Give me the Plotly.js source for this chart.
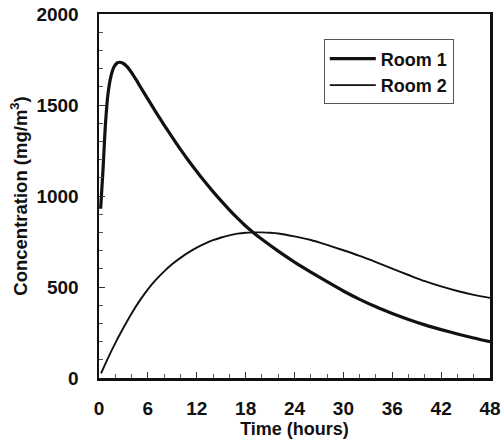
<!DOCTYPE html>
<html>
<head>
<meta charset="utf-8">
<script src="https://cdn.plot.ly/plotly-3.0.1.min.js"></script>
<style>
  html, body { margin: 0; padding: 0; background: #fff; }
  #chart { width: 501px; height: 444px; }
</style>
</head>
<body>
<div id="chart"></div>
<script>
// Concentration in each room over time (hours, mg/m^3)
const room1Hours = [0.2, 0.5, 0.8, 1.1, 1.45, 1.85, 2.2, 2.5, 3, 3.5, 4, 4.5, 5, 6, 7, 8, 9, 10, 11, 12, 13, 14, 15, 16, 17, 18, 19, 20, 22, 24, 26, 28, 30, 32, 34, 36, 38, 40, 42, 44, 46, 48];
const room1Conc  = [930, 1150, 1400, 1560, 1655, 1710, 1730, 1735, 1728, 1708, 1678, 1643, 1606, 1532, 1460, 1390, 1322, 1256, 1194, 1135, 1078, 1024, 973, 924, 878, 835, 797, 762, 697, 637, 582, 529, 478, 432, 391, 355, 322, 292, 266, 242, 220, 200];

const room2Hours = [0.25, 1, 2, 3, 4, 5, 6, 7, 8, 9, 10, 11, 12, 13, 14, 15, 16, 17, 18, 19, 20, 21, 22, 24, 26, 28, 30, 32, 34, 36, 38, 40, 42, 44, 46, 48];
const room2Conc  = [25, 100, 192, 276, 355, 425, 487, 540, 586, 626, 660, 690, 716, 738, 757, 772, 784, 793, 798, 800, 800, 798, 794, 778, 758, 731, 702, 671, 637, 601, 566, 532, 503, 478, 457, 440];

const seriesNames = ['Room 1', 'Room 2'];
const xTicks = [0, 6, 12, 18, 24, 30, 36, 42, 48];
const yTicks = [0, 500, 1000, 1500, 2000];

const FONT = 'Liberation Sans, Arial, sans-serif';

const traces = [
  {
    x: room1Hours, y: room1Conc, name: seriesNames[0],
    type: 'scatter', mode: 'lines',
    line: { color: '#111', width: 3.2, shape: 'spline', smoothing: 0.8 }
  },
  {
    x: room2Hours, y: room2Conc, name: seriesNames[1],
    type: 'scatter', mode: 'lines',
    line: { color: '#111', width: 1.9, shape: 'spline', smoothing: 0.8 }
  }
];

const layout = {
  width: 501, height: 444,
  margin: { l: 99, r: 11, t: 14, b: 66 },
  paper_bgcolor: '#fff', plot_bgcolor: '#fff',
  font: { family: FONT, color: '#111', size: 18, weight: 'bold' },
  showlegend: true,
  legend: {
    x: 0.575, y: 0.93, xanchor: 'left', yanchor: 'top',
    bgcolor: '#fff', bordercolor: '#555', borderwidth: 1,
    font: { family: FONT, size: 18, weight: 'bold', color: '#111' },
    itemwidth: 46
  },
  xaxis: {
    range: [0, 48], tickvals: xTicks, ticktext: xTicks.map(String),
    showgrid: false, zeroline: false,
    showline: true, linecolor: '#111', linewidth: 2.5, mirror: true,
    ticks: 'inside', ticklen: 6, tickwidth: 1, tickcolor: '#333',
    minor: { dtick: 2, ticks: 'inside', ticklen: 4, tickcolor: '#555', tickwidth: 1, showgrid: false },
    tickfont: { family: FONT, size: 19, weight: 'bold', color: '#111' },
    ticklabelstandoff: 12,
    title: { text: 'Time (hours)', font: { family: FONT, size: 18, weight: 'bold', color: '#111' }, standoff: 4 }
  },
  yaxis: {
    range: [0, 2000], tickvals: yTicks, ticktext: yTicks.map(String),
    showgrid: false, zeroline: false,
    showline: true, linecolor: '#111', linewidth: 2.5, mirror: true,
    ticks: 'inside', ticklen: 6, tickwidth: 1, tickcolor: '#333',
    minor: { dtick: 100, ticks: 'inside', ticklen: 4, tickcolor: '#555', tickwidth: 1, showgrid: false },
    tickfont: { family: FONT, size: 19, weight: 'bold', color: '#111' },
    ticklabelstandoff: 14,
    title: { text: 'Concentration (mg/m<sup>3</sup>)', font: { family: FONT, size: 18.5, weight: 'bold', color: '#111' }, standoff: 4 }
  }
};

Plotly.newPlot('chart', traces, layout, { displayModeBar: false, staticPlot: true });
</script>
</body>
</html>
